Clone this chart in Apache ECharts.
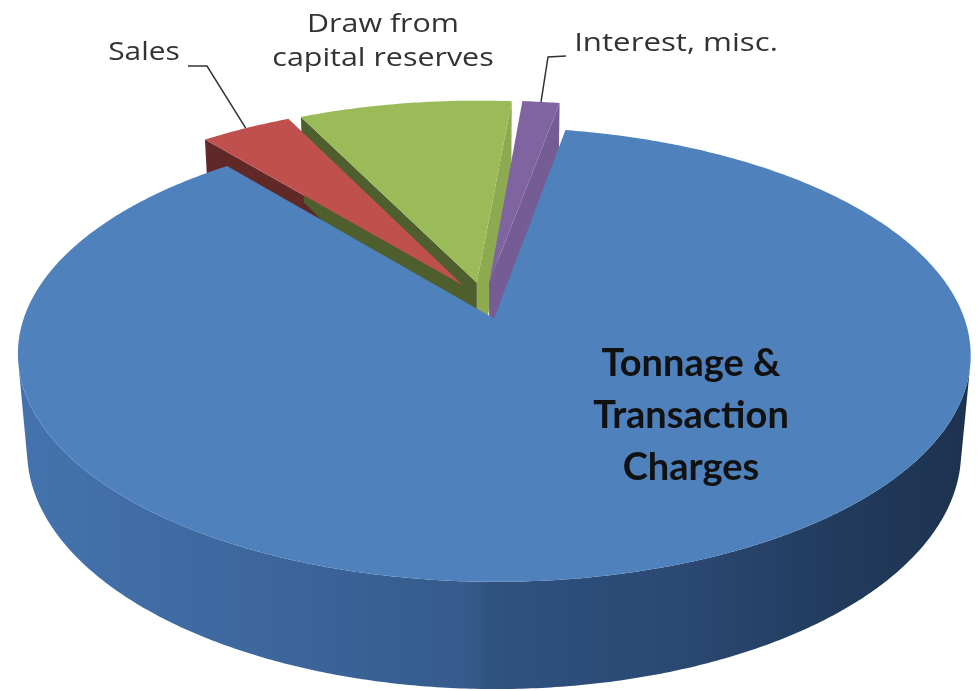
<!DOCTYPE html>
<html>
<head>
<meta charset="utf-8">
<script src="https://cdn.jsdelivr.net/npm/echarts@6/dist/echarts.min.js"></script>
<style>
  html, body { margin: 0; padding: 0; background: #ffffff; }
  #chart { width: 979px; height: 691px; }
</style>
</head>
<body>
<div id="chart"></div>
<script>
// Revenue sources (share of total, %)
const categories = ['Tonnage &\nTransaction\nCharges', 'Sales', 'Draw from\ncapital reserves', 'Interest, misc.'];
const values = [86.2, 3.7, 8.6, 1.5];

// Slice palette (top faces); walls are derived from these
const topColors = ['#4f81bd', '#c0504d', '#9bbb59', '#8064a2'];

// Camera / solid settings for the tilted, extruded pie
const VIEW = {
  cx: 484, cy: 300.6,     // screen position of the pie's centre
  focal: 2628,            // perspective focal length (px)
  dist: 5.66,             // camera distance, in radii
  tilt: 27.7,             // elevation of the camera (deg)
  depth: 0.235,           // thickness of the pie, in radii
  explode: 0.085,         // every slice is pulled out along its bisector
  startAngle: 10.3        // first slice starts here, clockwise from the back
};

// Label placement for each slice (text block centre, optional leader elbow)
const LABELS = [
  { x: 691, y: 416, size: 38, bold: true, lineHeight: 52, family: 'Lato', scaleX: 1, color: '#111111' },
  { x: 144, y: 53, size: 26, lineHeight: 34, family: 'Open Sans', scaleX: 1.15, color: '#333333',
    leader: [[188, 66], [207, 66]] },
  { x: 383, y: 42, size: 26, lineHeight: 34, family: 'Open Sans', scaleX: 1.17, color: '#333333' },
  { x: 676, y: 44, size: 26, lineHeight: 34, family: 'Open Sans', scaleX: 1.2, color: '#333333',
    leader: [[566, 56], [548, 57]] }
];

const RAD = Math.PI / 180;
const sinT = Math.sin(VIEW.tilt * RAD), cosT = Math.cos(VIEW.tilt * RAD);
const camZ = -VIEW.dist * cosT;

// World: X to the right, Z towards the back, Y up (top face at 0)
function project(X, Z, Y) {
  const d = VIEW.dist + Z * cosT - Y * sinT;
  const yc = Z * sinT + Y * cosT;
  return [VIEW.cx + VIEW.focal * X / d, VIEW.cy - VIEW.focal * yc / d];
}

function shade(hex, k) {
  const n = parseInt(hex.slice(1), 16);
  const r = Math.round(((n >> 16) & 255) * k);
  const g = Math.round(((n >> 8) & 255) * k);
  const b = Math.round((n & 255) * k);
  return 'rgb(' + r + ',' + g + ',' + b + ')';
}

// Simple directional light for the flat cut faces
function wallShade(nx, nz) {
  const lx = 0.95, lz = -0.31;
  const dot = Math.max(0, nx * lx + nz * lz);
  return 0.5 + 0.42 * dot;
}

function renderItem(params, api) {
  const i = params.dataIndex;
  const total = values.reduce((a, b) => a + b, 0);
  let before = 0;
  for (let j = 0; j < i; j++) before += values[j];
  const a0 = VIEW.startAngle + before / total * 360;
  const a1 = a0 + api.value(1) / total * 360;
  const mid = (a0 + a1) / 2 * RAD;
  const ax = VIEW.explode * Math.sin(mid);
  const az = VIEW.explode * Math.cos(mid);
  const bottom = -VIEW.depth;
  const color = topColors[i];
  const front = Math.cos(mid) < 0;
  const zBase = front ? 10 : 1;

  const children = [];

  // sample the rim
  const steps = Math.max(4, Math.ceil((a1 - a0) / 0.5));
  const rim = [];
  for (let k = 0; k <= steps; k++) {
    const t = (a0 + (a1 - a0) * k / steps) * RAD;
    const sx = Math.sin(t), cz = Math.cos(t);
    const px = ax + sx, pz = az + cz;
    const vis = sx * (0 - px) + cz * (camZ - pz) > 0;
    rim.push({ x: px, z: pz, vis: vis });
  }

  // outer (curved) wall, only where it faces the camera
  let run = [];
  const flush = () => {
    if (run.length >= 2) {
      const topPts = run.map(p => project(p.x, p.z, 0));
      const botPts = run.slice().reverse().map(p => project(p.x, p.z, bottom));
      let fill;
      if (i === 0) {
        fill = new echarts.graphic.LinearGradient(18, 0, 970, 0, [
          { offset: 0, color: '#4473ad' },
          { offset: 0.25, color: '#3d679d' },
          { offset: 0.47, color: '#355b8c' },
          { offset: 0.5, color: '#2f527f' },
          { offset: 0.72, color: '#2a4771' },
          { offset: 0.86, color: '#223b5d' },
          { offset: 1, color: '#1d324f' }
        ], true);
      } else {
        fill = shade(color, 0.6);
      }
      children.push({
        type: 'polygon', z2: zBase,
        shape: { points: topPts.concat(botPts) },
        style: { fill: fill }
      });
    }
    run = [];
  };
  rim.forEach(p => { if (p.vis) run.push(p); else flush(); });
  flush();

  // flat cut faces at both ends of the slice
  const cuts = [
    { ang: a0, nx: -Math.cos(a0 * RAD), nz: Math.sin(a0 * RAD) },
    { ang: a1, nx: Math.cos(a1 * RAD), nz: -Math.sin(a1 * RAD) }
  ];
  cuts.forEach(cut => {
    const facing = cut.nx * (0 - ax) + cut.nz * (camZ - az) > 0;
    if (!facing) return;
    const ex = ax + Math.sin(cut.ang * RAD), ez = az + Math.cos(cut.ang * RAD);
    children.push({
      type: 'polygon', z2: zBase,
      shape: { points: [project(ax, az, 0), project(ex, ez, 0), project(ex, ez, bottom), project(ax, az, bottom)] },
      style: { fill: shade(color, wallShade(cut.nx, cut.nz)) }
    });
  });

  // top face
  const topFace = [project(ax, az, 0)].concat(rim.map(p => project(p.x, p.z, 0)));
  children.push({
    type: 'polygon', z2: zBase + 1,
    shape: { points: topFace },
    style: { fill: color }
  });

  // label and leader line
  const lab = LABELS[i];
  children.push({
    type: 'text', z2: 30,
    x: lab.x, y: lab.y, scaleX: lab.scaleX,
    style: {
      text: categories[i],
      fontFamily: lab.family, fontSize: lab.size,
      fontWeight: lab.bold ? 'bold' : 'normal',
      lineHeight: lab.lineHeight,
      fill: lab.color, align: 'center', verticalAlign: 'middle'
    }
  });
  if (lab.leader) {
    const anchor = project(ax + Math.sin(mid), az + Math.cos(mid), 0);
    children.push({
      type: 'polyline', z2: 29,
      shape: { points: lab.leader.concat([anchor]) },
      style: { stroke: '#333333', lineWidth: 1.5, fill: null }
    });
  }

  return { type: 'group', children: children };
}

const chart = echarts.init(document.getElementById('chart'), null, { renderer: 'canvas' });
chart.setOption({
  backgroundColor: '#ffffff',
  animation: false,
  series: [{
    type: 'custom',
    coordinateSystem: 'none',
    renderItem: renderItem,
    data: values.map((v, i) => [i, v])
  }]
});
</script>
</body>
</html>
